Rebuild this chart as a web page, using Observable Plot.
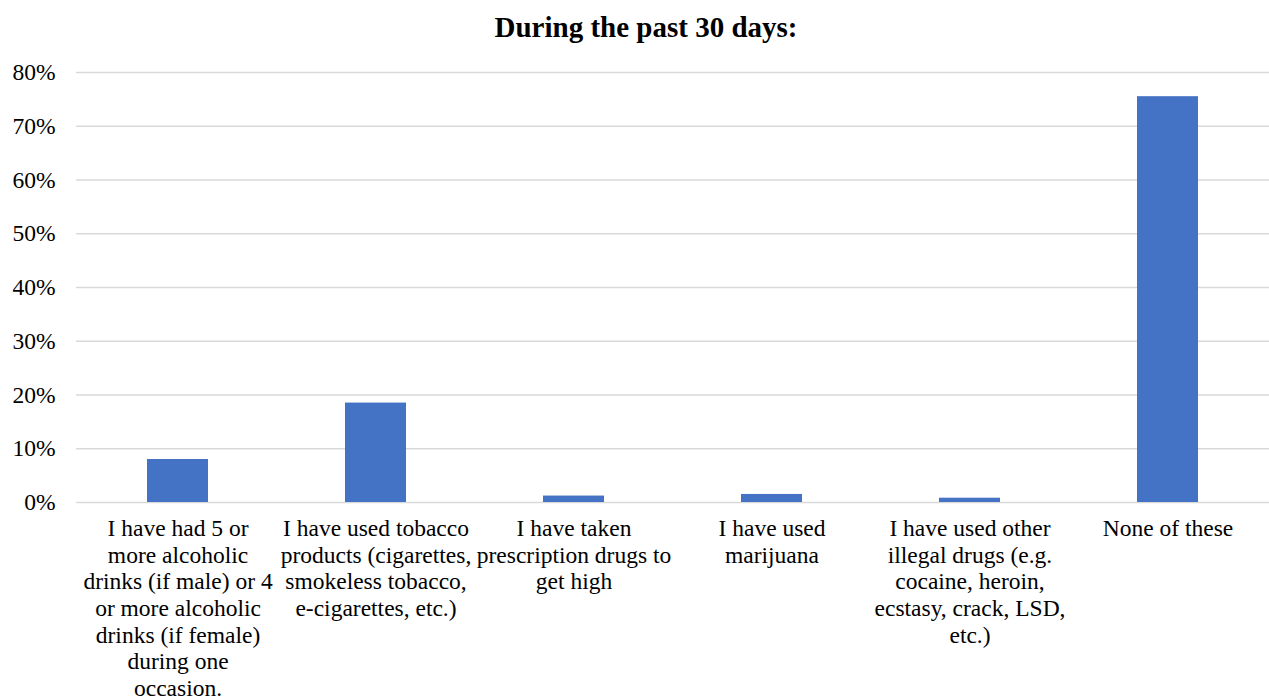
<!DOCTYPE html>
<html>
<head>
<meta charset="utf-8">
<script src="https://cdn.jsdelivr.net/npm/d3@7"></script>
<script src="https://cdn.jsdelivr.net/npm/@observablehq/plot@0.6"></script>
<style>
  body { margin: 0; background: #fff; font-family: 'Liberation Serif', 'Times New Roman', serif; }
  #title { box-sizing: border-box; width: 1269px; height: 50px; padding-top: 13px; padding-left: 23px;
           text-align: center; font-size: 29px; line-height: 29px; font-weight: bold; color: #000; }
  svg { display: block; }
  svg text { font-family: 'Liberation Serif', 'Times New Roman', serif !important; }
</style>
</head>
<body>
<div id="title">During the past 30 days:</div>
<div id="chart"></div>
<script>
const categories = [
  "I have had 5 or\nmore alcoholic\ndrinks (if male) or 4\nor more alcoholic\ndrinks (if female)\nduring one\noccasion.",
  "I have used tobacco\nproducts (cigarettes,\nsmokeless tobacco,\ne-cigarettes, etc.)",
  "I have taken\nprescription drugs to\nget high",
  "I have used\nmarijuana",
  "I have used other\nillegal drugs (e.g.\ncocaine, heroin,\necstasy, crack, LSD,\netc.)",
  "None of these"
];
const values = [0.080, 0.185, 0.012, 0.015, 0.008, 0.755];
const yTicks = [0, 0.1, 0.2, 0.3, 0.4, 0.5, 0.6, 0.7, 0.8];

const data = categories.map((c, i) => ({category: c, value: values[i]}));

const chart = Plot.plot({
  width: 1269,
  height: 650,
  marginTop: 22,
  marginBottom: 198,
  marginLeft: 76,
  marginRight: 0,
  style: {fontFamily: "'Liberation Serif', 'Times New Roman', serif", fontSize: "23.5px", color: "#000", background: "#fff"},
  x: {domain: categories, paddingInner: 0.69, paddingOuter: 0.345, label: null},
  y: {domain: [0, 0.8], label: null},
  marks: [
    Plot.ruleY(yTicks, {stroke: "#d9d9d9", strokeWidth: 1.5}),
    Plot.barY(data, {x: "category", y: "value", fill: "#4472c4"}),
    Plot.axisY({ticks: yTicks, tickFormat: d3.format(".0%"), tickSize: 0, tickPadding: 21, label: null, fontSize: 23.5}),
    Plot.axisX({tickSize: 0, tickPadding: 15, label: null, lineHeight: 1.13, fontSize: 23.5})
  ]
});
document.getElementById("chart").appendChild(chart);
</script>
</body>
</html>
